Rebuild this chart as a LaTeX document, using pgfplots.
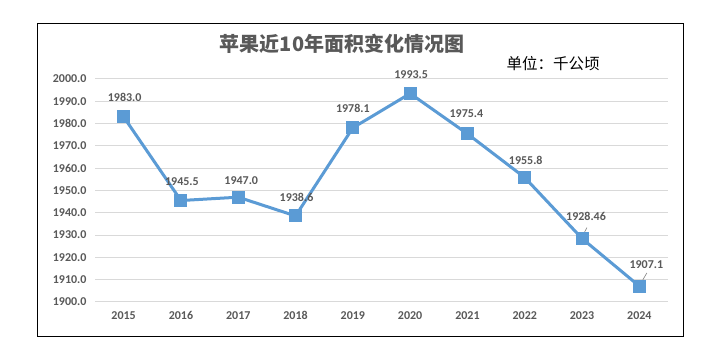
\documentclass[border=0pt]{standalone}
\usepackage{fontspec}
\setmainfont{Carlito}
\newfontfamily\cjk{Noto Sans CJK SC}
\usepackage{pgfplots}
\pgfplotsset{compat=1.18}
\definecolor{txt}{HTML}{595959}
\definecolor{ln}{HTML}{5B9BD5}
\definecolor{gr}{HTML}{D9D9D9}
\begin{document}
\begin{tikzpicture}[x=1pt,y=1pt]
\path[use as bounding box, fill=white] (0,0) rectangle (714,352);
\draw[black, line width=1pt] (37,15) rectangle (683,328);
\node[font=\cjk\bfseries\fontsize{20}{20}\selectfont, text=txt] at (342,308) {苹果近10年面积变化情况图};
\node[font=\cjk\fontsize{15.5}{15.5}\selectfont, text=black] at (553,288) {单位：千公顷};
\begin{axis}[at={(95pt,50pt)}, anchor=south west, scale only axis,
  width=573pt, height=223pt,
  xmin=-0.5, xmax=9.5, ymin=1900, ymax=2000,
  ytick={1900,1910,...,2000},
  xtick={0,1,2,3,4,5,6,7,8,9},
  xticklabels={2015,2016,2017,2018,2019,2020,2021,2022,2023,2024},
  /pgf/number format/.cd, fixed, fixed zerofill, precision=1, 1000 sep={}, assume math mode=true,
  /pgfplots/.cd,
  major tick length=0pt,
  axis line style={draw=none},
  ymajorgrids, grid style={gr, line width=1pt},
  tick label style={font=\bfseries\fontsize{12}{12}\selectfont, text=txt},
  yticklabel style={xshift=-5pt},
  xticklabel style={yshift=-6pt},
  clip=false]
\addplot[ln, line width=3pt, mark=square*, mark size=5pt,
  mark options={fill=ln, draw=none},
  nodes near coords, point meta=explicit symbolic,
  visualization depends on={\thisrow{dx}\as\dx},
  visualization depends on={\thisrow{dy}\as\dy},
  every node near coord/.append style={anchor=center, font=\bfseries\fontsize{12}{12}\selectfont, text=txt, xshift=\dx pt, yshift=\dy pt}]
  table[x=x, y=y, meta=lab] {
x y lab dx dy
0 1983.0 1983.0 1 20
1 1945.5 1945.5 1 19
2 1947.0 1947.0 3 17
3 1938.6 1938.6 1 19
4 1978.1 1978.1 0 19
5 1993.5 1993.5 1 19
6 1975.4 1975.4 -1 20
7 1955.8 1955.8 1 17
8 1928.46 1928.46 4 22
9 1907.1 1907.1 7 22
};
\draw[gray, line width=0.6pt] (axis cs:8.086,1933.4) -- (axis cs:8.02,1930.2);
\draw[gray, line width=0.6pt] (axis cs:9.13,1913.0) -- (axis cs:9.06,1909.9);
\end{axis}
\end{tikzpicture}
\end{document}
